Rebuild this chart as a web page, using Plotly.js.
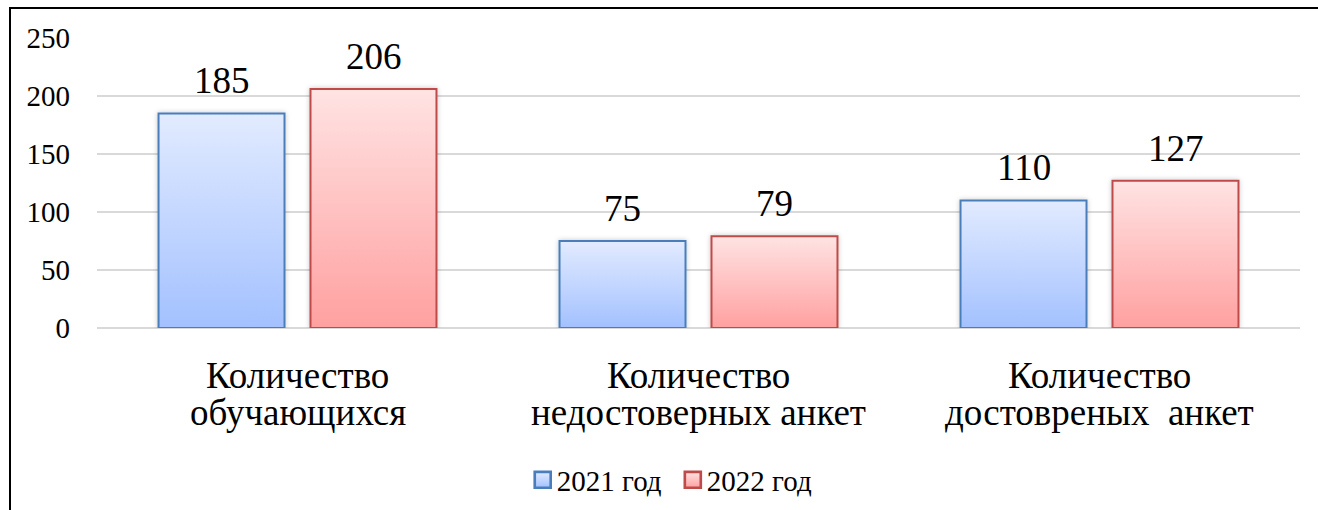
<!DOCTYPE html>
<html>
<head>
<meta charset="utf-8">
<script src="https://cdn.plot.ly/plotly-3.0.1.min.js"></script>
<style>
  html, body { margin: 0; padding: 0; background: #fff; }
  #wrap { position: relative; width: 1318px; height: 510px; overflow: hidden; }
  #chart { position: absolute; left: 0; top: 0; width: 1318px; height: 510px; }
  #frame { position: absolute; left: 9px; top: 7px; width: 1400px; height: 600px;
           border-top: 2px solid #000; border-left: 2px solid #000; pointer-events: none; }
  #fontwarm { position: absolute; left: -2000px; top: 0; font-family: 'Liberation Serif'; font-size: 20px; }
</style>
</head>
<body>
<div id="wrap">
  <div id="chart"></div>
  <div id="frame"></div>
  <div id="fontwarm">Количество 0123456789 год</div>
</div>
<script>
// ---- data ----
const categories = ["Количество<br>обучающихся", "Количество<br>недостоверных анкет", "Количество<br>достовреных  анкет"];
const seriesNames = ["2021 год", "2022 год"];
const values2021 = [185, 75, 110];
const values2022 = [206, 79, 127];
const yTicks = [0, 50, 100, 150, 200, 250];

// ---- styling ----
const FONT = 'Liberation Serif';
const blueLine = '#4a7ebb', redLine = '#be4b48';

const catIdx = categories.map((_, i) => i);

const traces = [
  { type: 'bar', name: seriesNames[0], x: catIdx, y: values2021,
    marker: { color: '#c3d6ff', line: { color: blueLine, width: 2 } }, hoverinfo: 'skip' },
  { type: 'bar', name: seriesNames[1], x: catIdx, y: values2022,
    marker: { color: '#ffc3c3', line: { color: redLine, width: 2 } }, hoverinfo: 'skip' }
];

const annotations = [];
const shift = 76;
[values2021, values2022].forEach((vals, s) => {
  vals.forEach((v, i) => {
    annotations.push({ x: i, y: v, xref: 'x', yref: 'y', text: String(v), showarrow: false,
      xshift: s === 0 ? -shift : shift, yanchor: 'bottom', yshift: 10,
      font: { family: FONT, size: 37, color: '#000' } });
  });
});
categories.forEach((c, i) => {
  c.split('<br>').forEach((line, k) => {
    annotations.push({ x: i, y: 0, xref: 'x', yref: 'y', text: line, showarrow: false,
      yanchor: 'middle', yshift: -47 - 37 * k,
      font: { family: FONT, size: 37, color: '#000' } });
  });
});

const layout = {
  width: 1318, height: 510,
  font: { family: FONT, color: '#000' },
  margin: { l: 97, r: 18, t: 38, b: 182, pad: 0, autoexpand: false },
  paper_bgcolor: '#fff', plot_bgcolor: '#fff',
  barmode: 'group', bargap: 0.242, bargroupgap: 0.171,
  showlegend: true,
  legend: { orientation: 'h', x: 0.474, xanchor: 'center', y: -0.524, yanchor: 'middle',
            font: { family: FONT, size: 29, color: '#000' }, itemwidth: 30, traceorder: 'normal' },
  xaxis: { range: [-0.5, 2.5], tickvals: catIdx, showticklabels: false, showgrid: false,
           zeroline: false, showline: false, ticks: '' },
  yaxis: { range: [0, 250], tickvals: yTicks, ticktext: yTicks.map(String),
           showgrid: true, gridcolor: '#d9d9d9', gridwidth: 2,
           zeroline: true, zerolinecolor: '#d9d9d9', zerolinewidth: 2, showline: false,
           ticks: '', ticklabelstandoff: 26,
           tickfont: { family: FONT, size: 29, color: '#000' } },
  annotations: annotations
};

Plotly.newPlot('chart', traces, layout, { displayModeBar: false }).then(gd => {
  const svg = gd.querySelector('svg.main-svg');
  let defs = svg.querySelector('defs');
  const NS = 'http://www.w3.org/2000/svg';
  function grad(id, top, bottom) {
    const g = document.createElementNS(NS, 'linearGradient');
    g.setAttribute('id', id);
    g.setAttribute('x1', '0'); g.setAttribute('y1', '0');
    g.setAttribute('x2', '0'); g.setAttribute('y2', '1');
    [[0, top], [1, bottom]].forEach(([o, c]) => {
      const s = document.createElementNS(NS, 'stop');
      s.setAttribute('offset', o); s.setAttribute('stop-color', c);
      g.appendChild(s);
    });
    defs.appendChild(g);
  }
  grad('gBlue', '#e2ebff', '#a3c1ff');
  grad('gRed', '#ffe3e3', '#ffa0a0');
  const f = document.createElementNS(NS, 'filter');
  f.setAttribute('id', 'barShadow');
  f.setAttribute('x', '-20%'); f.setAttribute('y', '-20%');
  f.setAttribute('width', '140%'); f.setAttribute('height', '140%');
  const ds = document.createElementNS(NS, 'feDropShadow');
  ds.setAttribute('dx', '0'); ds.setAttribute('dy', '0');
  ds.setAttribute('stdDeviation', '2.5');
  ds.setAttribute('flood-color', '#000'); ds.setAttribute('flood-opacity', '0.22');
  f.appendChild(ds);
  defs.appendChild(f);

  const ids = ['gBlue', 'gRed'];
  gd.querySelectorAll('.barlayer .trace').forEach((t, i) => {
    t.querySelectorAll('path').forEach(p => {
      p.style.fill = 'url(#' + ids[i] + ')';
      p.setAttribute('filter', 'url(#barShadow)');
    });
  });
  gd.querySelectorAll('.legend .traces').forEach((t, i) => {
    t.querySelectorAll('.legendpoints path').forEach(p => {
      p.style.fill = 'url(#' + ids[i] + ')';
      const tr = p.getAttribute('transform') || '';
      p.setAttribute('transform', tr + ' translate(6,0) scale(1.33)');
    });
  });
  const a = gd.querySelector('.annotation-text');
  document.getElementById('fontwarm').textContent = 'Количество год ' + (a ? a.getAttribute('style').length : 0);
});
</script>
</body>
</html>
